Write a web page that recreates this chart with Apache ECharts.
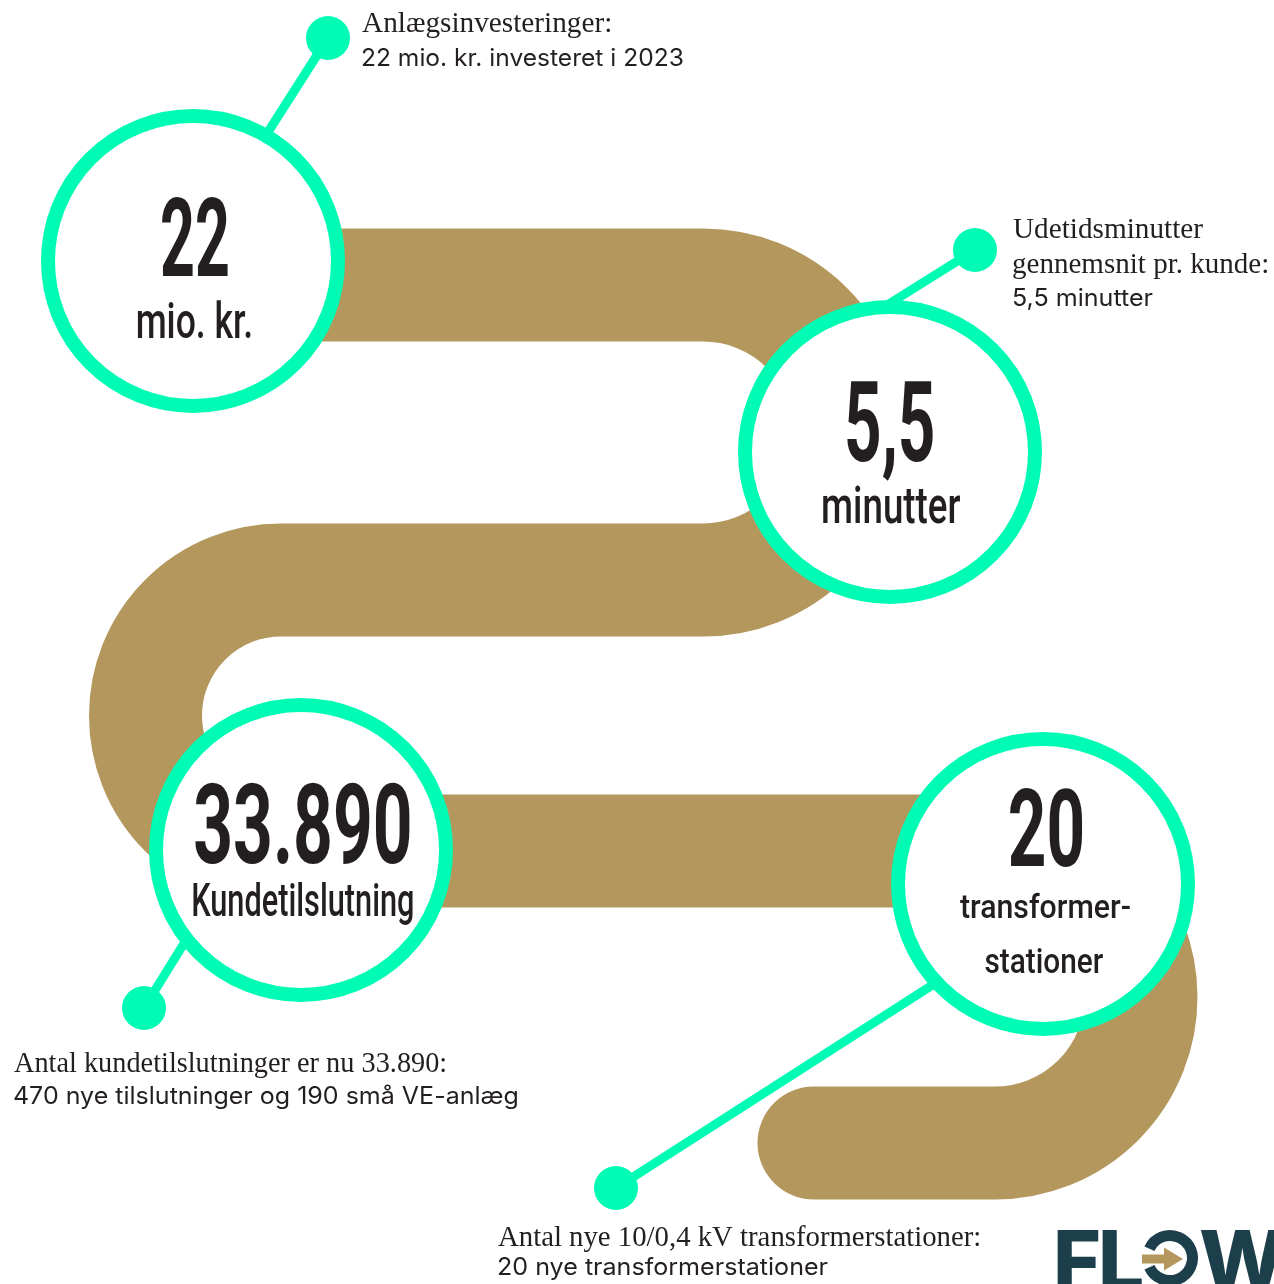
<!DOCTYPE html>
<html><head><meta charset="utf-8">
<script src="https://cdn.jsdelivr.net/npm/echarts@6/dist/echarts.min.js"></script>
<style>html,body{margin:0;padding:0;background:#fff}#c{width:1274px;height:1284px}</style>
</head><body><div id="c"></div>
<script>
// ================= DATA =================
const statValues = ['22', '5,5', '33.890', '20'];
const statUnits = [['mio. kr.'], ['minutter'], ['Kundetilslutning'], ['transformer-', 'stationer']];
const statHeadings = [
  ['Anlægsinvesteringer:'],
  ['Udetidsminutter', 'gennemsnit pr. kunde:'],
  ['Antal kundetilslutninger er nu 33.890:'],
  ['Antal nye 10/0,4 kV transformerstationer:']
];
const statDetails = [
  '22 mio. kr. investeret i 2023',
  '5,5 minutter',
  '470 nye tilslutninger og 190 små VE-anlæg',
  '20 nye transformerstationer'
];
const logoLetters = ['F', 'L', 'W'];

// ================= LAYOUT / STYLE =================
const W = 1274, H = 1284;
const GREEN = '#00fbb4', GOLD = '#b4975d', INK = '#231f20', NAVY = '#1d3f4b';
const layout = {
  circles: [[193, 261], [890, 452], [301, 850], [1043, 884]],
  ringR: 145, ringW: 14,
  connectors: [
    { dot: [328, 38], end: [268, 132] },
    { dot: [975, 250], end: [884, 307] },
    { dot: [144, 1008], end: [188, 937] },
    { dot: [616, 1188], end: [934, 984] }
  ],
  dotR: 22, connW: 9,
  snakeWidth: 113,
  snake: { start: [193, 285], legs: [
    { to: [703, 285] }, { arc: [703, 580], r: 147.5, sweep: 1 },
    { to: [281, 580] }, { arc: [281, 851], r: 135.5, sweep: 0 },
    { to: [995, 851] }, { arc: [995, 1143], r: 146, sweep: 1 },
    { to: [814, 1143] }
  ]},
  big: [
    { cx: 194.7, w: 66, top: 197, base: 276 },
    { cx: 890, w: 86, top: 382, base: 461 },
    { cx: 302.5, w: 215, top: 783, base: 863 },
    { cx: 1046, w: 73, top: 788, base: 866 }
  ],
  units: [
    [{ cx: 194.2, w: 113, top: 300, base: 338 }],
    [{ cx: 891.7, w: 137, top: 485, base: 523 }],
    [{ cx: 303, w: 220, top: 881, base: 916 }],
    [{ cx: 1045, w: 170, top: 892, base: 918 }, { cx: 1044, w: 118, top: 947, base: 973 }]
  ],
  headings: [
    [{ x: 362, w: 248, base: 32 }],
    [{ x: 1013, w: 190, base: 238 }, { x: 1013, w: 254, base: 273 }],
    [{ x: 14, w: 431, base: 1072 }],
    [{ x: 498, w: 481, base: 1246 }]
  ],
  details: [
    { x: 362, w: 321, base: 66 },
    { x: 1013, w: 140, base: 306 },
    { x: 14, w: 503, base: 1104 },
    { x: 498, w: 330, base: 1275 }
  ],
  logo: { letters: [{ x: 1057 }, { x: 1102 }, { x: 1200 }], base: 1290,
          o: { c: [1170, 1258], r: 22.5, lw: 11, gap: 0.42 },
          arrow: [[1142,1254.5],[1164,1254.5],[1164,1247.5],[1183,1259],[1164,1270.5],[1164,1263.5],[1142,1263.5]] }
};
const FONT_BIG = 'bold 112px Roboto';
const FONT_UNIT = '500 52px Roboto';
const FONT_SERIF = '30px "Liberation Serif"';
const FONT_SANS = '24px Inter';
const FONT_LOGO = '800 82px Inter';

// ================= HELPERS =================
const mctx = document.createElement('canvas').getContext('2d');
function measure(text, font) {
  mctx.font = font;
  mctx.textBaseline = 'alphabetic';
  const a = mctx.measureText(text);
  mctx.textBaseline = 'middle';
  const m = mctx.measureText(text);
  return { left: a.actualBoundingBoxLeft, right: a.actualBoundingBoxRight,
           asc: a.actualBoundingBoxAscent, mid: a.actualBoundingBoxAscent - m.actualBoundingBoxAscent };
}
function textEl(api, text, font, fill, spec) {
  const m = measure(text, font);
  const ink = m.left + m.right;
  const unit = api.size([1, 1]);
  const sx = spec.w ? (spec.w * unit[0]) / ink : 1;
  const sy = spec.top != null ? ((spec.base - spec.top) * unit[1]) / m.asc : 1;
  const left = spec.x != null ? spec.x : spec.cx - spec.w / 2;
  const p = api.coord([left, spec.base]);
  return { type: 'text', x: p[0] + sx * m.left, y: p[1], scaleX: sx, scaleY: sy,
           style: { text: text, font: font, fill: fill, x: 0, y: -m.mid, align: 'left', verticalAlign: 'middle' } };
}

const chart = echarts.init(document.getElementById('c'), null, { renderer: 'canvas' });
const idxData = statValues.map((v, i) => ({ value: [i, 0], name: v }));

chart.setOption({
  animation: false,
  backgroundColor: '#ffffff',
  grid: { left: 0, right: 0, top: 0, bottom: 0 },
  xAxis: { type: 'value', min: 0, max: W, show: false },
  yAxis: { type: 'value', min: 0, max: H, inverse: true, show: false },
  series: [
    { // snake band
      type: 'custom', z: 1, silent: true, data: [[0, 0]],
      renderItem: function (params, api) {
        const s = layout.snake;
        const k = api.size([1, 1])[0];
        let p = api.coord(s.start);
        let d = 'M' + p[0] + ' ' + p[1];
        s.legs.forEach(function (leg) {
          if (leg.to) { p = api.coord(leg.to); d += ' L' + p[0] + ' ' + p[1]; }
          else { p = api.coord(leg.arc); const r = leg.r * k; d += ' A' + r + ' ' + r + ' 0 0 ' + leg.sweep + ' ' + p[0] + ' ' + p[1]; }
        });
        return { type: 'path', shape: { pathData: d },
                 style: { fill: 'none', stroke: GOLD, lineWidth: layout.snakeWidth * k, lineCap: 'round', lineJoin: 'round' } };
      }
    },
    { // connectors + dots
      type: 'custom', z: 2, silent: true, data: idxData,
      renderItem: function (params, api) {
        const c = layout.connectors[params.dataIndex];
        const a = api.coord(c.dot), b = api.coord(c.end);
        const k = api.size([1, 1])[0];
        return { type: 'group', children: [
          { type: 'line', shape: { x1: a[0], y1: a[1], x2: b[0], y2: b[1] }, style: { stroke: GREEN, lineWidth: layout.connW * k } },
          { type: 'circle', shape: { cx: a[0], cy: a[1], r: layout.dotR * k }, style: { fill: GREEN } }
        ]};
      }
    },
    { // rings
      type: 'custom', z: 3, silent: true, data: idxData,
      renderItem: function (params, api) {
        const c = api.coord(layout.circles[params.dataIndex]);
        const k = api.size([1, 1])[0];
        return { type: 'circle', shape: { cx: c[0], cy: c[1], r: layout.ringR * k },
                 style: { fill: '#ffffff', stroke: GREEN, lineWidth: layout.ringW * k } };
      }
    },
    { // texts
      type: 'custom', z: 4, silent: true, data: idxData,
      renderItem: function (params, api) {
        const i = params.dataIndex;
        const kids = [textEl(api, statValues[i], FONT_BIG, INK, layout.big[i])];
        statUnits[i].forEach(function (t, j) { kids.push(textEl(api, t, FONT_UNIT, INK, layout.units[i][j])); });
        statHeadings[i].forEach(function (t, j) { kids.push(textEl(api, t, FONT_SERIF, INK, layout.headings[i][j])); });
        kids.push(textEl(api, statDetails[i], FONT_SANS, INK, layout.details[i]));
        return { type: 'group', children: kids };
      }
    },
    { // logo
      type: 'custom', z: 5, silent: true, data: [[0, 0]],
      renderItem: function (params, api) {
        const L = layout.logo;
        const k = api.size([1, 1])[0];
        const kids = logoLetters.map(function (t, j) {
          return textEl(api, t, FONT_LOGO, NAVY, { x: L.letters[j].x, base: L.base });
        });
        const oc = api.coord(L.o.c);
        kids.push({ type: 'arc', shape: { cx: oc[0], cy: oc[1], r: L.o.r * k,
                    startAngle: Math.PI + L.o.gap, endAngle: 3 * Math.PI - L.o.gap, clockwise: true },
                    style: { stroke: NAVY, lineWidth: L.o.lw * k, fill: 'none' } });
        kids.push({ type: 'polygon', shape: { points: L.arrow.map(function (pt) { return api.coord(pt); }) },
                    style: { fill: GOLD } });
        return { type: 'group', children: kids };
      }
    }
  ]
});
</script>
</body></html>
